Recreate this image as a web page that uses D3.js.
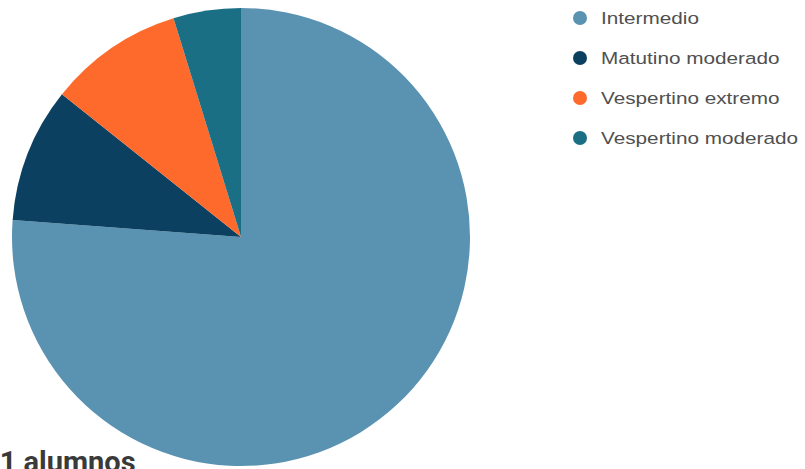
<!DOCTYPE html>
<html><head><meta charset="utf-8">
<script src="https://cdn.jsdelivr.net/npm/d3@7"></script>
<style>html,body{margin:0;padding:0;background:#fff;overflow:hidden}</style>
</head><body>
<svg id="c" width="805" height="469"></svg>
<script>
const categories = ["Intermedio", "Matutino moderado", "Vespertino extremo", "Vespertino moderado"];
const values = [16, 2, 2, 1];
const colors = ["#5a92b2", "#0b4061", "#fd6a2c", "#1b6f85"];
const unitLabel = "alumnos";

const svg = d3.select("#c");
const cx = 241, cy = 237, r = 229;
const data = categories.map((c, i) => ({cat: c, value: values[i], color: colors[i]}));
const pie = d3.pie().value(d => d.value).sort(null);
const arc = d3.arc().innerRadius(0).outerRadius(r);
const g = svg.append("g").attr("transform", `translate(${cx},${cy})`);
g.selectAll("path").data(pie(data)).enter().append("path")
  .attr("d", arc).attr("fill", d => d.data.color);

const color = d3.scaleOrdinal().domain(categories).range(colors);
const ly = d3.scalePoint().domain(categories).range([18, 138]);
const leg = svg.append("g");
const items = leg.selectAll("g").data(categories).enter().append("g")
  .attr("transform", d => `translate(580,${ly(d)})`);
items.append("circle").attr("r", 7).attr("fill", d => color(d));
items.append("text").attr("transform", "translate(21,6) scale(1.22,1)")
  .attr("font-family", "Liberation Sans, Arial, sans-serif").attr("font-size", 17)
  .attr("fill", "#505050").text(d => d);

const total = d3.sum(values);
svg.append("text").attr("x", -17).attr("y", 472)
  .attr("font-family", "Roboto, sans-serif").attr("font-weight", "bold").attr("font-size", 29)
  .attr("fill", "#3a3a3a").text(`${total} ${unitLabel}`);
</script>
</body></html>
